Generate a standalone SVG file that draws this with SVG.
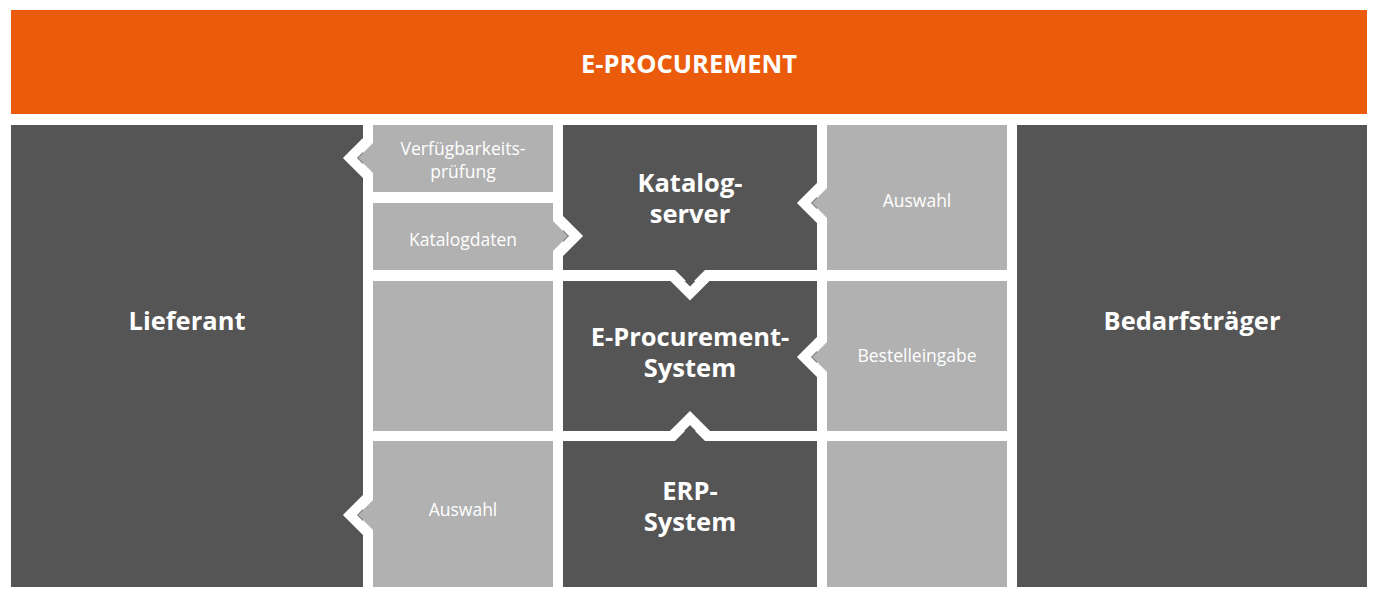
<svg xmlns="http://www.w3.org/2000/svg" width="1378" height="598" viewBox="0 0 1378 598">
<style>
.d{fill:#555555}.g{fill:#b1b1b1}
.w{fill:none;stroke:#ffffff;stroke-width:10;stroke-linejoin:miter;stroke-miterlimit:10}
text{font-family:"Open Sans","Liberation Sans",sans-serif;fill:#fff;text-anchor:middle}
.b{font-size:25.5px;font-weight:bold}.s{font-size:17.5px}
</style>
<rect width="1378" height="598" fill="#fff"/>
<g id="top"><rect x="11" y="10" width="1356" height="104" fill="#ea5b0c"/><text class="b" x="689" y="73">E-PROCUREMENT</text></g>
<g id="lieferant"><rect class="d" x="11" y="125" width="352" height="462"/><text class="b" x="187" y="330">Lieferant</text></g>
<g id="bedarf"><rect class="d" x="1017" y="125" width="350" height="462"/><text class="b" x="1192" y="330">Bedarfsträger</text></g>
<g id="verf"><rect class="g" x="373" y="125" width="180" height="67"/><text class="s" x="463" y="155">Verfügbarkeits-</text><text class="s" x="463" y="178">prüfung</text></g>
<g id="katdat"><rect class="g" x="373" y="203" width="180" height="67"/><text class="s" x="463" y="246">Katalogdaten</text></g>
<g id="empty1"><rect class="g" x="373" y="281" width="180" height="150"/></g>
<g id="auswahl1"><rect class="g" x="373" y="441" width="180" height="146"/><text class="s" x="463" y="516">Auswahl</text></g>
<g id="katserver"><rect class="d" x="563" y="125" width="254" height="145"/><text class="b" x="690" y="192">Katalog-</text><text class="b" x="690" y="223">server</text></g>
<g id="eps"><rect class="d" x="563" y="281" width="254" height="150"/><text class="b" x="690" y="346">E-Procurement-</text><text class="b" x="690" y="377">System</text></g>
<g id="erp"><rect class="d" x="563" y="441" width="254" height="146"/><text class="b" x="690" y="500">ERP-</text><text class="b" x="690" y="531">System</text></g>
<g id="auswahl2"><rect class="g" x="827" y="125" width="180" height="145"/><text class="s" x="917" y="207">Auswahl</text></g>
<g id="bestell"><rect class="g" x="827" y="281" width="180" height="150"/><text class="s" x="917" y="362">Bestelleingabe</text></g>
<g id="empty2"><rect class="g" x="827" y="441" width="180" height="146"/></g>
<g id="connectors">
<polyline class="w" points="368,125 368,140 350,158 368,176 368,192"/><polygon class="g" points="373,143 358,158 373,173"/>
<polyline class="w" points="368,480 368,497 350,515 368,533 368,560"/><polygon class="g" points="373,500 358,515 373,530"/>
<polyline class="w" points="558,203 558,218 576,236 558,254 558,270"/><polygon class="g" points="553,221 568,236 553,251"/>
<polyline class="w" points="822,165 822,185 804,203 822,221 822,250"/><polygon class="g" points="827,188 812,203 827,218"/>
<polyline class="w" points="822,320 822,339 804,357 822,375 822,400"/><polygon class="g" points="827,342 812,357 827,372"/>
<polyline class="w" points="600,275.5 672,275.5 690,293.5 708,275.5 800,275.5"/><polygon class="d" points="675,270 690,285 705,270"/>
<polyline class="w" points="600,436 672,436 690,418 708,436 800,436"/><polygon class="d" points="675,441 690,426 705,441"/>
</g>
</svg>
